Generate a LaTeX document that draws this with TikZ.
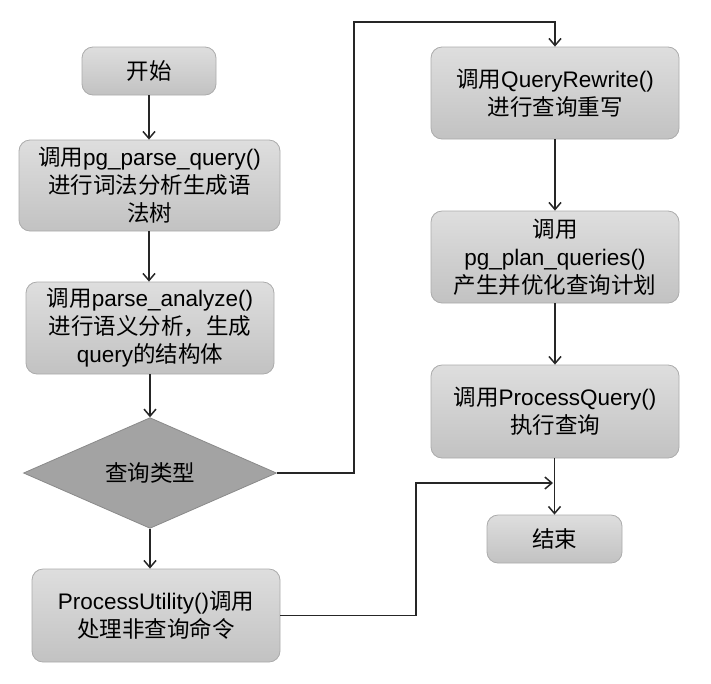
\documentclass[tikz,border=0pt]{standalone}
\usepackage{fontspec}
\setmainfont{Liberation Sans}
\newfontfamily\cjk{Noto Sans CJK SC}
\usetikzlibrary{shapes.geometric,arrows.meta}
\definecolor{boxtop}{HTML}{DEDEDE}
\definecolor{boxbot}{HTML}{C2C2C2}
\definecolor{boxline}{HTML}{ABABAB}
\definecolor{diafill}{HTML}{A3A3A3}
\definecolor{dialine}{HTML}{8A8A8A}
\tikzset{
  box/.style={rectangle, rounded corners=11pt, draw=boxline, line width=0.8pt,
    top color=boxtop, bottom color=boxbot, align=center, inner sep=0pt,
    font=\fontsize{22.5}{28}\selectfont},
  dia/.style={diamond, draw=dialine, fill=diafill, line width=0.8pt, inner sep=0pt,
    font=\fontsize{22.5}{28}\selectfont},
  arr/.style={draw=black!85, line width=1.6pt, -{Straight Barb[length=7pt,width=12pt,line width=1.5pt]}},
}
\begin{document}
\begin{tikzpicture}[x=1pt,y=-1pt]
\useasboundingbox (0,0) rectangle (711,683);
\node[box, minimum width=134pt, minimum height=48pt] (start) at (149,71) {\cjk 开始};
\node[box, minimum width=261pt, minimum height=91pt] (pq) at (149.5,185.5)
  {{\cjk 调用}pg\_parse\_query()\\{\cjk 进行词法分析生成语}\\{\cjk 法树}};
\node[box, minimum width=248pt, minimum height=92pt] (pa) at (150,328)
  {{\cjk 调用}parse\_analyze()\\{\cjk 进行语义分析，生成}\\query{\cjk 的结构体}};
\node[dia, minimum width=253pt, minimum height=108pt] (d) at (150,473) {\cjk 查询类型};
\node[box, minimum width=248pt, minimum height=93pt] (pu) at (156,615.5)
  {ProcessUtility(){\cjk 调用}\\{\cjk 处理非查询命令}};
\node[box, minimum width=248pt, minimum height=92pt] (qr) at (555,93)
  {{\cjk 调用}QueryRewrite()\\{\cjk 进行查询重写}};
\node[box, minimum width=248pt, minimum height=92pt] (pp) at (555,257)
  {{\cjk 调用}\\pg\_plan\_queries()\\{\cjk 产生并优化查询计划}};
\node[box, minimum width=248pt, minimum height=93pt] (pr) at (555,411.5)
  {{\cjk 调用}ProcessQuery()\\{\cjk 执行查询}};
\node[box, minimum width=135pt, minimum height=48pt] (end) at (554.5,539) {\cjk 结束};
\coordinate (t1) at (354,22);
\coordinate (t2) at (416,483);
\coordinate (t3) at (553,483);
\draw[arr] (start.south) -- (start.south |- pq.north);
\draw[arr] (start.south |- pq.south) -- (start.south |- pa.north);
\draw[arr] (pa.south) -- (d.north);
\draw[arr] (d.south) -- (pu.north -| d.south);
\draw[arr] (d.east) -| (t1) -| (qr.north);
\draw[arr] (qr) -- (pp);
\draw[arr] (pp) -- (pr);
\draw[arr] (pr.south -| end.north) -- (end.north);
\draw[arr] (pu.east) -| (t2) -- (t3);
\end{tikzpicture}
\end{document}
